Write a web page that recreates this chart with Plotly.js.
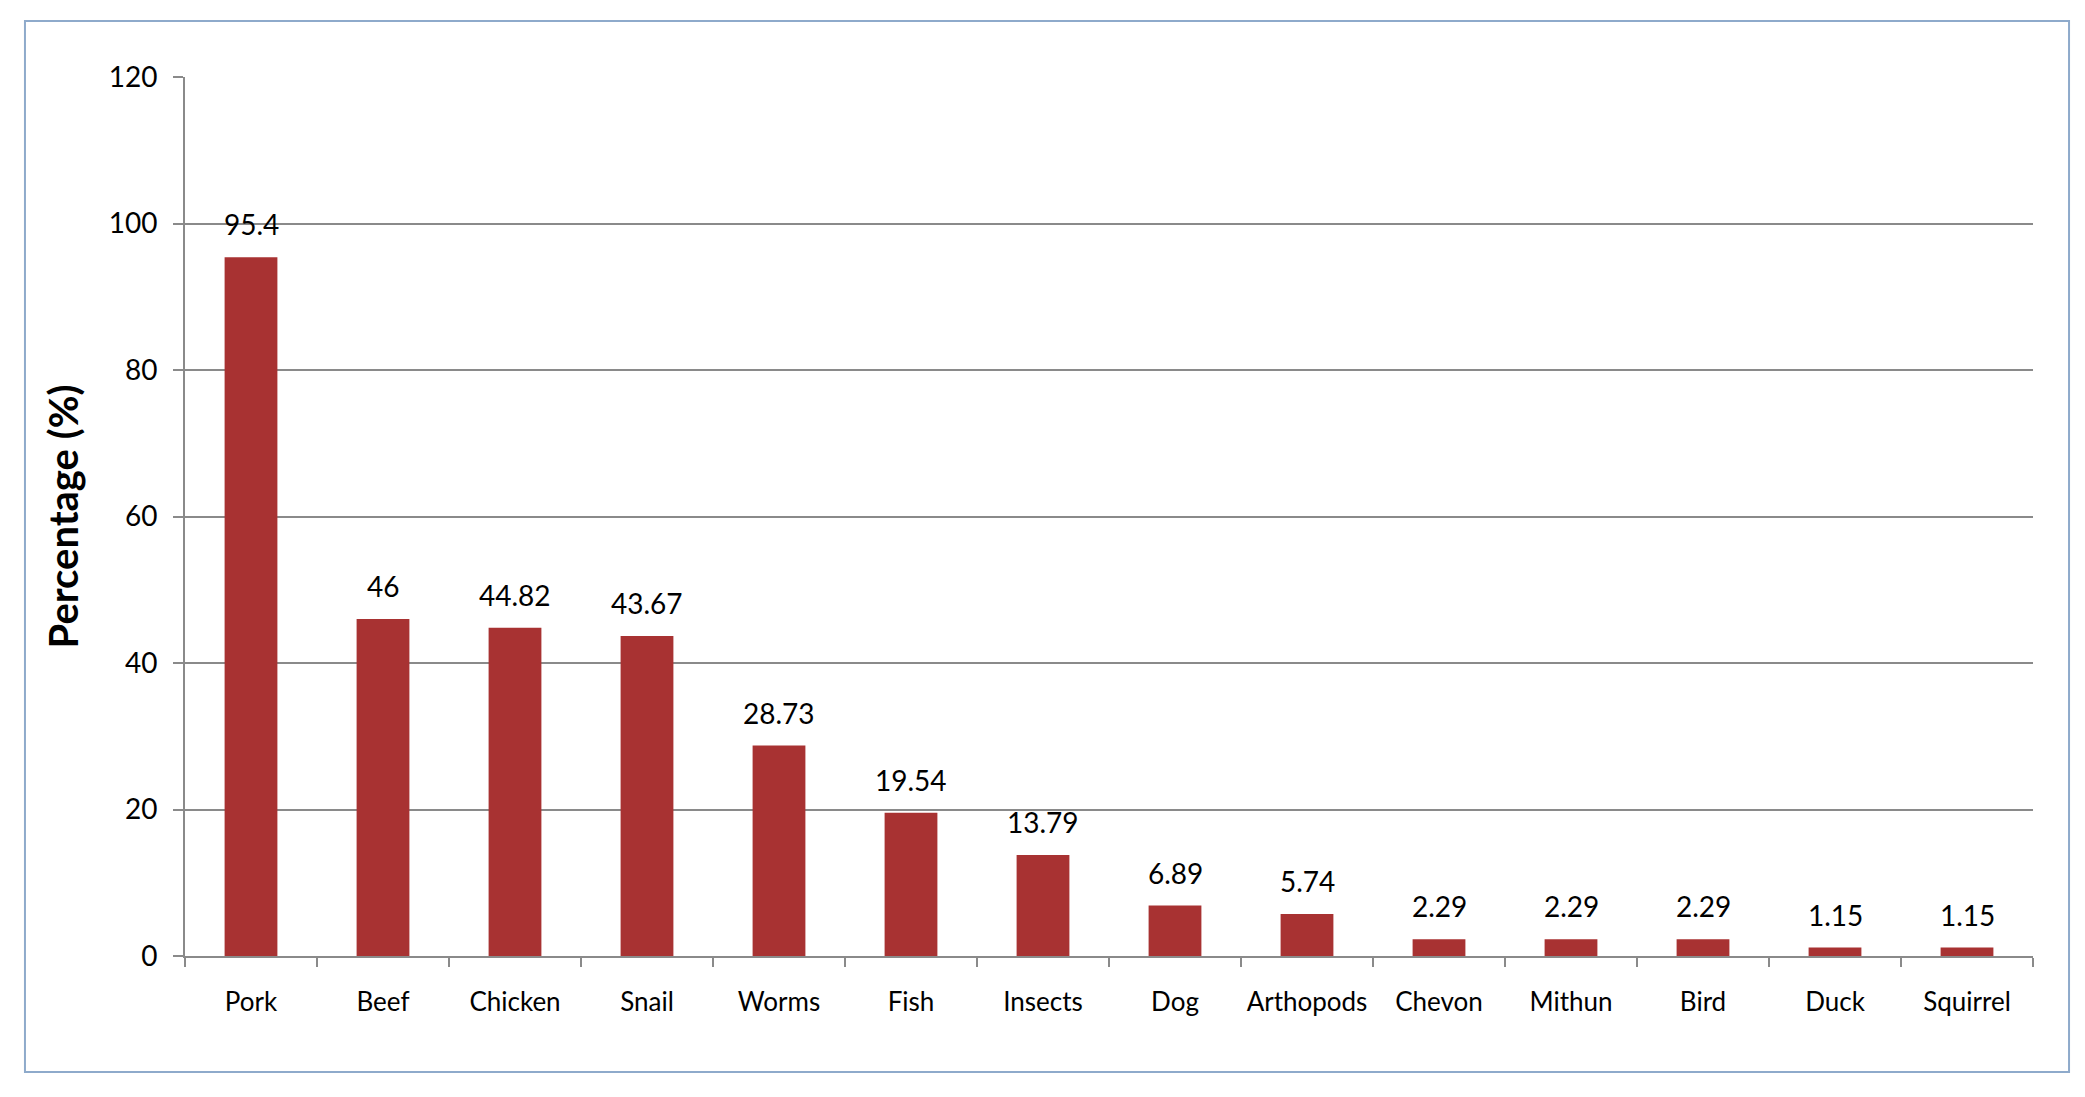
<!DOCTYPE html>
<html>
<head>
<meta charset="utf-8">
<script src="https://cdn.plot.ly/plotly-3.0.1.min.js"></script>
<style>
  html, body { margin: 0; padding: 0; background: #fff; }
  #graph { width: 2085px; height: 1097px; }
</style>
</head>
<body>
<div id="graph"></div>
<script>
/* meat types and share of respondents (%) */
const categories = ["Pork", "Beef", "Chicken", "Snail", "Worms", "Fish", "Insects",
    "Dog", "Arthopods", "Chevon", "Mithun", "Bird", "Duck", "Squirrel"];
const percentages = [95.4, 46, 44.82, 43.67, 28.73, 19.54, 13.79,
    6.89, 5.74, 2.29, 2.29, 2.29, 1.15, 1.15];
const yTicks = [0, 20, 40, 60, 80, 100, 120];

const gridGrey = "#8a8a8a";
const barRed = "#a83232";

const trace = {
    x: categories,
    y: percentages,
    type: "bar",
    marker: { color: barRed },
    hoverinfo: "x+y",
};

/* value labels over each bar */
const labels = categories.map(function (c, i) {
    return {
        x: c,
        y: percentages[i],
        text: String(percentages[i]),
        showarrow: false,
        yanchor: "bottom",
        yshift: 14,
        font: { family: "Lato, sans-serif", size: 28, color: "#000" },
    };
});

const layout = {
    width: 2085,
    height: 1097,
    margin: { l: 185, r: 52, t: 77, b: 141 },
    paper_bgcolor: "#fff",
    plot_bgcolor: "#fff",
    showlegend: false,
    bargap: 0.6,
    font: { family: "Lato, sans-serif", color: "#000" },
    xaxis: {
        type: "category",
        showline: true,
        linecolor: gridGrey,
        linewidth: 2,
        ticks: "outside",
        tickson: "boundaries",
        ticklen: 9,
        tickwidth: 2,
        tickcolor: gridGrey,
        ticklabelstandoff: 22,
        tickfont: { size: 26 },
        showgrid: false,
    },
    yaxis: {
        range: [0, 120],
        tickvals: yTicks,
        showline: true,
        linecolor: gridGrey,
        linewidth: 2,
        ticks: "outside",
        ticklen: 10,
        tickwidth: 2,
        tickcolor: gridGrey,
        ticklabelstandoff: 10,
        tickfont: { size: 28 },
        showgrid: true,
        gridcolor: gridGrey,
        gridwidth: 2,
        zeroline: false,
        title: {
            text: "<b>Percentage (%)</b>",
            font: { size: 40 },
            standoff: 18,
        },
    },
    annotations: labels,
    shapes: [
        {
            type: "rect",
            xref: "paper",
            yref: "paper",
            x0: -0.0866,
            x1: 1.0195,
            y0: -0.132,
            y1: 1.0637,
            line: { color: "#8eaacb", width: 2 },
            layer: "below",
        },
    ],
};

Plotly.newPlot("graph", [trace], layout, { displayModeBar: false, staticPlot: true });
</script>
</body>
</html>
